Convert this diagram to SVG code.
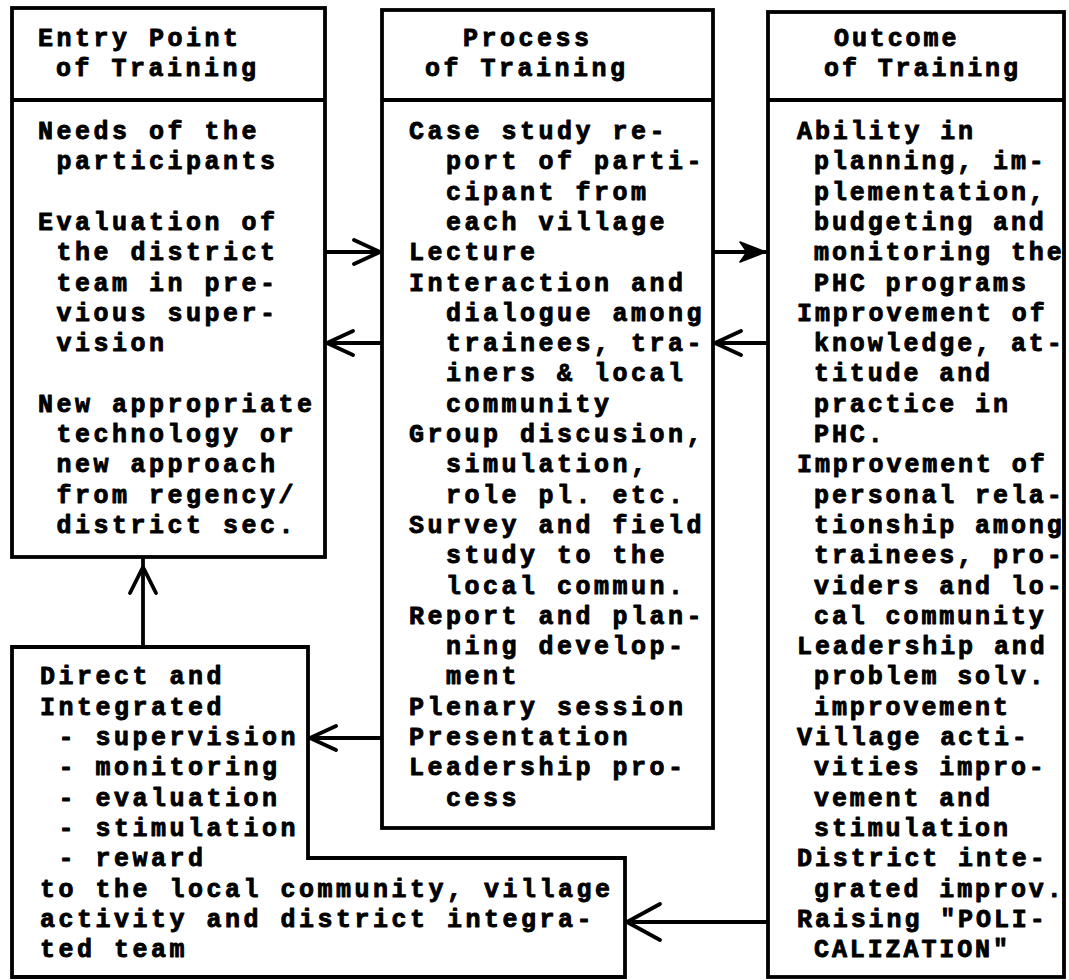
<svg xmlns="http://www.w3.org/2000/svg" width="1069" height="980" viewBox="0 0 1069 980">
  <style>
    .box { fill: none; stroke: #000; stroke-width: 3.8; stroke-linejoin: miter; }
    .div { stroke: #000; stroke-width: 3.8; }
    .t { font-family: "Liberation Mono", "Courier New", monospace; font-weight: bold; font-size: 25px; letter-spacing: 3.5px; fill: #000; stroke: #000; stroke-width: 0.9; stroke-linejoin: round; }
    .r { letter-spacing: 2.9px; }
    .wire { fill: none; stroke: #000; stroke-width: 3.8; }
    .head { fill: none; stroke: #000; stroke-width: 3.8; stroke-linecap: round; stroke-linejoin: round; }
  </style>
  <defs>
    <marker id="chev" viewBox="0 0 32 28" refX="29" refY="14" markerWidth="32" markerHeight="28" markerUnits="userSpaceOnUse" orient="auto">
      <path d="M3,2 L29,14 L3,26" fill="none" stroke="#000" stroke-width="3.8" stroke-linecap="round" stroke-linejoin="round"/>
    </marker>
    <marker id="chevL" viewBox="0 0 40 42" refX="37" refY="21" markerWidth="40" markerHeight="42" markerUnits="userSpaceOnUse" orient="auto">
      <path d="M4,3 L37,21 L4,39" fill="none" stroke="#000" stroke-width="3.8" stroke-linecap="round" stroke-linejoin="round"/>
    </marker>
    <marker id="barb" viewBox="0 0 28 22" refX="27" refY="11" markerWidth="28" markerHeight="22" markerUnits="userSpaceOnUse" orient="auto">
      <path d="M1,1 L27,11 L1,21 L8,11 Z" fill="#000" stroke="#000" stroke-width="1.5" stroke-linejoin="round"/>
    </marker>
  </defs>

  <rect width="1069" height="980" fill="#fff"/>

  <!-- Entry point column -->
  <g id="entry">
    <rect class="box" x="12" y="8" width="313" height="549"/>
    <line class="div" x1="12" y1="100" x2="325" y2="100"/>
    <text class="t">
      <tspan x="38" y="46">Entry Point</tspan>
      <tspan x="56" y="76">of Training</tspan>
    </text>
    <text class="t">
      <tspan x="38" y="139">Needs of the</tspan>
      <tspan x="56.5" y="169.3">participants</tspan>
      <tspan x="38" y="229.9">Evaluation of</tspan>
      <tspan x="56.5" y="260.2">the district</tspan>
      <tspan x="56.5" y="290.5">team in pre-</tspan>
      <tspan x="56.5" y="320.8">vious super-</tspan>
      <tspan x="56.5" y="351.1">vision</tspan>
      <tspan x="38" y="411.7">New appropriate</tspan>
      <tspan x="56.5" y="442">technology or</tspan>
      <tspan x="56.5" y="472.3">new approach</tspan>
      <tspan x="56.5" y="502.6">from regency/</tspan>
      <tspan x="56.5" y="532.9">district sec.</tspan>
    </text>
  </g>

  <!-- Process column -->
  <g id="process">
    <rect class="box" x="382" y="10" width="331" height="818"/>
    <line class="div" x1="382" y1="100" x2="713" y2="100"/>
    <text class="t">
      <tspan x="463" y="46">Process</tspan>
      <tspan x="425" y="76">of Training</tspan>
    </text>
    <text class="t">
      <tspan x="409" y="139">Case study re-</tspan>
      <tspan x="446" y="169.3">port of parti-</tspan>
      <tspan x="446" y="199.6">cipant from</tspan>
      <tspan x="446" y="229.9">each village</tspan>
      <tspan x="409" y="260.2">Lecture</tspan>
      <tspan x="409" y="290.5">Interaction and</tspan>
      <tspan x="446" y="320.8">dialogue among</tspan>
      <tspan x="446" y="351.1">trainees, tra-</tspan>
      <tspan x="446" y="381.4">iners &amp; local</tspan>
      <tspan x="446" y="411.7">community</tspan>
      <tspan x="409" y="442">Group discusion,</tspan>
      <tspan x="446" y="472.3">simulation,</tspan>
      <tspan x="446" y="502.6">role pl. etc.</tspan>
      <tspan x="409" y="532.9">Survey and field</tspan>
      <tspan x="446" y="563.2">study to the</tspan>
      <tspan x="446" y="593.5">local commun.</tspan>
      <tspan x="409" y="623.8">Report and plan-</tspan>
      <tspan x="446" y="654.1">ning develop-</tspan>
      <tspan x="446" y="684.4">ment</tspan>
      <tspan x="409" y="714.7">Plenary session</tspan>
      <tspan x="409" y="745">Presentation</tspan>
      <tspan x="409" y="775.3">Leadership pro-</tspan>
      <tspan x="446" y="805.6">cess</tspan>
    </text>
  </g>

  <!-- Outcome column -->
  <g id="outcome">
    <rect class="box" x="768" y="12" width="296" height="965"/>
    <line class="div" x1="768" y1="100" x2="1064" y2="100"/>
    <text class="t r">
      <tspan x="834" y="46">Outcome</tspan>
      <tspan x="824" y="76">of Training</tspan>
    </text>
    <text class="t r">
      <tspan x="797" y="139">Ability in</tspan>
      <tspan x="814" y="169.3">planning, im-</tspan>
      <tspan x="814" y="199.6">plementation,</tspan>
      <tspan x="814" y="229.9">budgeting and</tspan>
      <tspan x="814" y="260.2">monitoring the</tspan>
      <tspan x="814" y="290.5">PHC programs</tspan>
      <tspan x="797" y="320.8">Improvement of</tspan>
      <tspan x="814" y="351.1">knowledge, at-</tspan>
      <tspan x="814" y="381.4">titude and</tspan>
      <tspan x="814" y="411.7">practice in</tspan>
      <tspan x="814" y="442">PHC.</tspan>
      <tspan x="797" y="472.3">Improvement of</tspan>
      <tspan x="814" y="502.6">personal rela-</tspan>
      <tspan x="814" y="532.9">tionship among</tspan>
      <tspan x="814" y="563.2">trainees, pro-</tspan>
      <tspan x="814" y="593.5">viders and lo-</tspan>
      <tspan x="814" y="623.8">cal community</tspan>
      <tspan x="797" y="654.1">Leadership and</tspan>
      <tspan x="814" y="684.4">problem solv.</tspan>
      <tspan x="814" y="714.7">improvement</tspan>
      <tspan x="797" y="745">Village acti-</tspan>
      <tspan x="814" y="775.3">vities impro-</tspan>
      <tspan x="814" y="805.6">vement and</tspan>
      <tspan x="814" y="835.9">stimulation</tspan>
      <tspan x="797" y="866.2">District inte-</tspan>
      <tspan x="814" y="896.5">grated improv.</tspan>
      <tspan x="797" y="926.8">Raising "POLI-</tspan>
      <tspan x="814" y="957.1">CALIZATION"</tspan>
    </text>
  </g>

  <!-- Feedback box (L-shaped) -->
  <g id="feedback">
    <path class="box" d="M12,647 H308 V858 H625 V977 H12 Z"/>
    <text class="t">
      <tspan x="40" y="684.4">Direct and</tspan>
      <tspan x="40" y="714.7">Integrated</tspan>
      <tspan x="58.5" y="745">- supervision</tspan>
      <tspan x="58.5" y="775.3">- monitoring</tspan>
      <tspan x="58.5" y="805.6">- evaluation</tspan>
      <tspan x="58.5" y="835.9">- stimulation</tspan>
      <tspan x="58.5" y="866.2">- reward</tspan>
      <tspan x="40" y="896.5">to the local community, village</tspan>
      <tspan x="40" y="926.8">activity and district integra-</tspan>
      <tspan x="40" y="957.1">ted team</tspan>
    </text>
  </g>

  <!-- Connectors -->
  <g id="connectors">
    <path class="wire" d="M325,252 H380" marker-end="url(#chev)"/>
    <path class="wire" d="M382,343 H327" marker-end="url(#chev)"/>
    <path class="wire" d="M713,252 H766" marker-end="url(#barb)"/>
    <path class="wire" d="M768,343 H715" marker-end="url(#chev)"/>
    <path class="wire" d="M382,738 H310" marker-end="url(#chev)"/>
    <path class="wire" d="M768,922 H627" marker-end="url(#chevL)"/>
    <path class="wire" d="M143,647 V557"/>
    <polyline class="head" points="130,593 143,567 156,593"/>
  </g>
</svg>
